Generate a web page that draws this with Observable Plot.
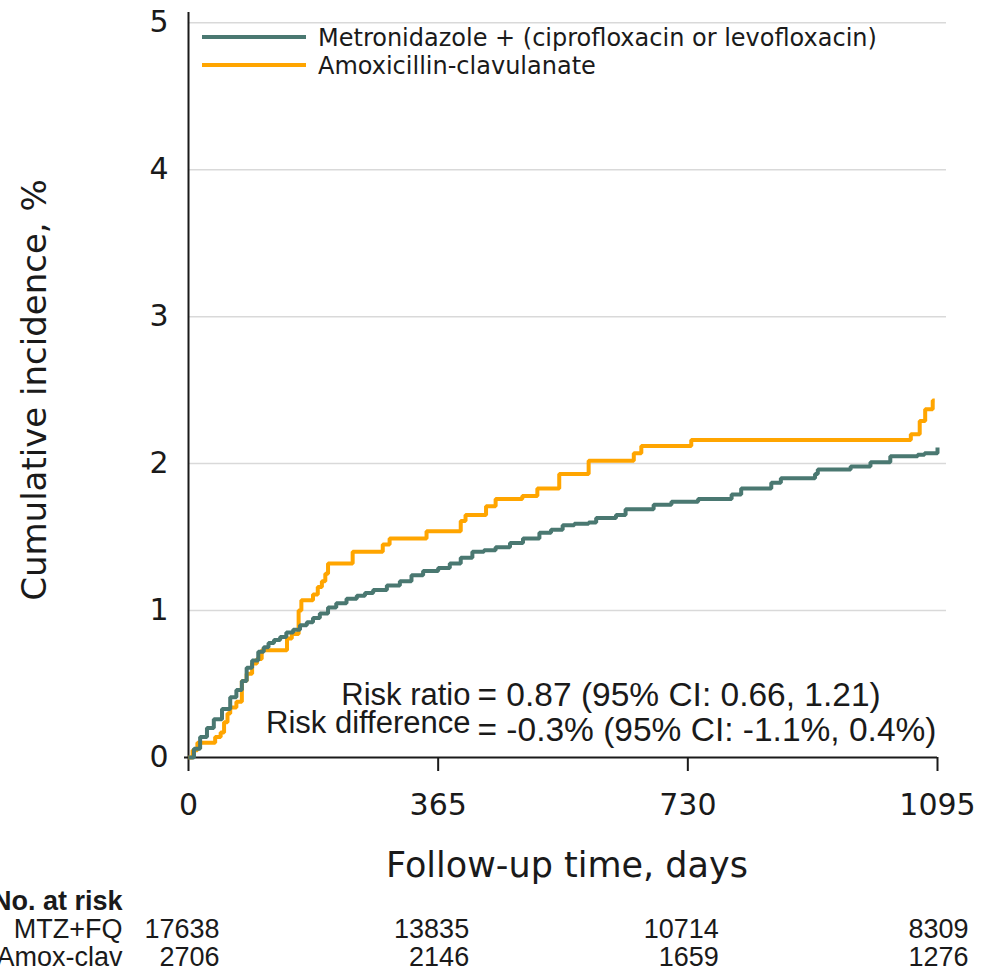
<!DOCTYPE html>
<html>
<head>
<meta charset="utf-8">
<script src="https://cdn.jsdelivr.net/npm/d3@7"></script>
<script src="https://cdn.jsdelivr.net/npm/@observablehq/plot@0.6"></script>
<style>
  body { margin: 0; background: #fff; }
  #chart { width: 982px; height: 975px; overflow: hidden; }
</style>
</head>
<body>
<div id="chart"></div>
<script>
// Cumulative incidence (%) by follow-up day, Kaplan–Meier style step curves
const mtzCurve = [
  [0,0],[8,0.06],[17,0.14],[27,0.20],[37,0.26],[49,0.33],[61,0.41],[70,0.46],
  [78,0.52],[85,0.61],[93,0.66],[102,0.72],[110,0.75],[117,0.78],[125,0.80],
  [134,0.82],[143,0.85],[153,0.87],[163,0.90],[173,0.92],[182,0.95],[192,0.98],
  [204,1.02],[216,1.05],[231,1.08],[246,1.10],[258,1.12],[270,1.14],[290,1.17],
  [309,1.20],[326,1.24],[343,1.27],[365,1.29],[382,1.32],[398,1.36],[415,1.40],
  [432,1.41],[449,1.43],[470,1.46],[489,1.49],[513,1.53],[530,1.55],[547,1.58],
  [564,1.59],[585,1.60],[596,1.63],[625,1.65],[639,1.69],[680,1.72],[706,1.74],
  [745,1.76],[794,1.79],[808,1.83],[852,1.87],[866,1.90],[916,1.93],[920,1.96],
  [968,1.98],[997,2.01],[1026,2.05],[1066,2.06],[1076,2.07],[1095,2.11]
];
const amoxCurve = [
  [0,0],[6,0.05],[13,0.10],[39,0.14],[47,0.17],[52,0.24],[57,0.30],[61,0.34],
  [70,0.38],[78,0.52],[85,0.57],[93,0.64],[100,0.67],[107,0.73],[144,0.81],
  [151,0.84],[161,1.00],[165,1.07],[182,1.11],[189,1.16],[195,1.20],[200,1.25],
  [204,1.32],[240,1.40],[284,1.45],[294,1.49],[348,1.54],[398,1.61],[405,1.65],
  [435,1.71],[449,1.76],[488,1.78],[510,1.83],[542,1.93],[585,2.02],[651,2.07],
  [662,2.12],[735,2.16],[1056,2.20],[1069,2.29],[1077,2.37],[1088,2.43],[1091,2.43]
];

const seriesNames = ["Metronidazole + (ciprofloxacin or levofloxacin)", "Amoxicillin-clavulanate"];
const seriesColors = ["#4a7871", "#ffa500"];

// Axis ticks and titles
const xTicks = [0, 365, 730, 1095];
const yTicks = [0, 1, 2, 3, 4, 5];
const xTitle = "Follow-up time, days";
const yTitle = "Cumulative incidence, %";

// Number at risk table
const riskHeader = "No. at risk";
const riskGroups = ["MTZ+FQ", "Amox-clav"];
const mtzAtRisk = [17638, 13835, 10714, 8309];
const amoxAtRisk = [2706, 2146, 1659, 1276];

// Effect estimates
const statLabels = ["Risk ratio", "Risk difference"];
const statValues = ["= 0.87 (95% CI: 0.66, 1.21)", "= -0.3% (95% CI: -1.1%, 0.4%)"];

const toRows = (curve, name) => curve.map(([day, pct]) => ({day, pct, name}));
const rows = [...toRows(amoxCurve, seriesNames[1]), ...toRows(mtzCurve, seriesNames[0])];
const riskRows = xTicks.map((day, i) => ({day, mtz: mtzAtRisk[i], amox: amoxAtRisk[i]}));

const axisFont = "DejaVu Sans";
const textFont = "Liberation Sans, Arial, sans-serif";
const ink = "#1a1a1a";

// Text pinned to the lower-left corner of the frame (the origin)
const cornerText = (value, opts) => Plot.text([value], {
  frameAnchor: "bottom-left", lineAnchor: "middle", text: d => d,
  fontFamily: textFont, fill: ink, ...opts
});

const chart = Plot.plot({
  width: 982,
  height: 975,
  marginLeft: 188,
  marginRight: 45,
  marginTop: 12,
  marginBottom: 218,
  style: {background: "#fff", color: ink, overflow: "visible"},
  x: {domain: [0, 1095]},
  y: {domain: [0, 5.07]},
  color: {domain: seriesNames, range: seriesColors},
  marks: [
    Plot.gridY(yTicks.slice(1), {stroke: "#d9d9d9", strokeOpacity: 1, strokeWidth: 1.5, insetRight: -9}),
    Plot.axisY(yTicks, {
      tickSize: 0, tickPadding: 20, fontSize: 30, fontFamily: axisFont,
      tickFormat: d => String(d), label: null
    }),
    Plot.axisX(xTicks, {
      tickSize: 14, tickPadding: 22, fontSize: 30, fontFamily: axisFont, strokeWidth: 2,
      tickFormat: d => String(d), label: null
    }),
    Plot.text([yTitle], {
      frameAnchor: "left", rotate: -90, dx: -153, dy: 5, lineAnchor: "middle", textAnchor: "middle",
      text: d => d, fontSize: 34, fontFamily: axisFont, fill: ink
    }),
    Plot.text([xTitle], {
      frameAnchor: "bottom", dx: 4, dy: 108, lineAnchor: "middle", textAnchor: "middle",
      text: d => d, fontSize: 35, fontFamily: axisFont, fill: ink
    }),
    Plot.ruleX([0], {stroke: ink, strokeWidth: 2}),
    Plot.ruleY([0], {stroke: ink, strokeWidth: 2, insetLeft: -4}),
    Plot.line(rows, {
      x: "day", y: "pct", z: "name", stroke: "name", strokeWidth: 4,
      curve: "step-after", strokeLinejoin: "miter", strokeLinecap: "butt"
    }),
    // Effect estimates, labels right-aligned against the values
    cornerText(statLabels[0], {textAnchor: "end", dx: 282, dy: -62, fontSize: 31}),
    cornerText(statValues[0], {textAnchor: "start", dx: 289, dy: -62, fontSize: 33.5}),
    cornerText(statLabels[1], {textAnchor: "end", dx: 282, dy: -34, fontSize: 31}),
    cornerText(statValues[1], {textAnchor: "start", dx: 289, dy: -27, fontSize: 33.5}),
    // Number at risk table below the axis
    cornerText(riskHeader, {textAnchor: "end", dx: -66, dy: 144, fontSize: 27, fontWeight: "bold"}),
    cornerText(riskGroups[0], {textAnchor: "end", dx: -66, dy: 172, fontSize: 27}),
    cornerText(riskGroups[1], {textAnchor: "end", dx: -66, dy: 200, fontSize: 27}),
    Plot.text(riskRows, {x: "day", y: () => 0, text: d => String(d.mtz), textAnchor: "end", dx: 31, dy: 172, fontSize: 27, fontFamily: textFont, fill: ink}),
    Plot.text(riskRows, {x: "day", y: () => 0, text: d => String(d.amox), textAnchor: "end", dx: 31, dy: 200, fontSize: 27, fontFamily: textFont, fill: ink})
  ]
});

// Legend in the upper-left corner of the plot area
const svg = d3.select(chart);
const legend = svg.append("g")
  .attr("font-family", axisFont).attr("font-size", 24)
  .attr("fill", ink).attr("text-anchor", "start");
seriesNames.forEach((name, i) => {
  const cy = 37 + i * 28;
  legend.append("line")
    .attr("x1", 202).attr("x2", 306).attr("y1", cy).attr("y2", cy)
    .attr("stroke", seriesColors[i]).attr("stroke-width", 4);
  legend.append("text")
    .attr("x", 318).attr("y", cy + 8.5)
    .text(name);
});

document.getElementById("chart").appendChild(chart);
</script>
</body>
</html>
